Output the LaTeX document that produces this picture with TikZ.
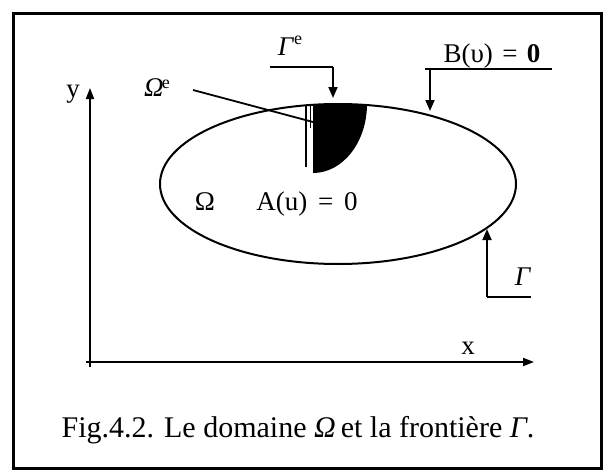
\documentclass[tikz,border=0pt]{standalone}
\usepackage{fontspec}
\setmainfont{Liberation Serif}
\usetikzlibrary{arrows.meta}
\tikzset{
  lbl/.style={inner sep=0pt, font=\fontsize{27}{32}\selectfont},
  axis/.style={line width=2pt, -{Triangle[length=11pt,width=8pt]}},
  lead/.style={line width=1.8pt},
  leadarrow/.style={line width=1.8pt, -{Triangle[length=11pt,width=9pt]}},
}
\begin{document}
\begin{tikzpicture}[x=1pt,y=-1pt]
\useasboundingbox (0,0) rectangle (603,471);
% frame
\draw[line width=3pt] (13,13) rectangle (601,468);
% axes
\coordinate (o) at (90,367);
\coordinate (ytip) at (90,88);
\coordinate (xo) at (86,362);
\coordinate (xtip) at (534,362);
\draw[axis] (o) -- (ytip);
\draw[axis] (xo) -- (xtip);
\node[lbl] (ylab) at (73,94) {y};
\node[lbl] (xlab) at (468,348) {x};
% domain
\draw[line width=2pt] (338,184) ellipse[x radius=178, y radius=80];
% element
\fill (313,173) -- (313,104) -- (367,104) arc[start angle=0, end angle=90, x radius=54, y radius=69] -- cycle;
\draw[line width=1.5pt] (306,106) -- (306,167);
\draw[line width=1pt] (310,106) -- (310,128);
% Omega^e
\node[lbl] (oe) at (157,88) {\textit{Ω}\kern-2pt\raisebox{0.7ex}{\fontsize{18}{20}\selectfont e}};
\coordinate (oeA) at (193,90);
\coordinate (oeB) at (313,122);
\draw[lead] (oeA) -- (oeB);
% Gamma^e
\node[lbl] (ge) at (290,46) {\textit{Γ}\raisebox{0.9ex}{\fontsize{18}{20}\selectfont e}};
\coordinate (geA) at (270,67);
\coordinate (geB) at (333,67);
\coordinate (geC) at (333,98);
\draw[lead] (geA) -- (geB);
\draw[leadarrow] (geB) -- (geC);
% B(u)=0
\node[lbl, anchor=base] (bc) at (492,62) {B(υ)\hspace{0.35em}=\hspace{0.35em}\textbf{0}};
\coordinate (bA) at (425,69);
\coordinate (bB) at (552,69);
\coordinate (bK) at (430,69);
\coordinate (bC) at (430,111);
\draw[lead] (bA) -- (bB);
\draw[leadarrow] (bK) -- (bC);
% Gamma
\coordinate (gT) at (487,229);
\coordinate (gK) at (487,297);
\coordinate (gE) at (531,297);
\draw[leadarrow] (gK) -- (gT);
\draw[lead] (gK) -- (gE);
\node[lbl] (gl) at (523,277) {\textit{Γ}};
% labels inside
\node[lbl, anchor=base] (om) at (205,210) {Ω};
\node[lbl, anchor=base] (au) at (307,210) {A(u)\hspace{0.4em}=\hspace{0.4em}0};
% caption
\node[lbl, anchor=base, font=\fontsize{30}{34}\selectfont] (cap) at (298,437) {Fig.4.2. Le domaine \textit{Ω}\,et la frontière \textit{Γ}.};
\end{tikzpicture}
\end{document}
